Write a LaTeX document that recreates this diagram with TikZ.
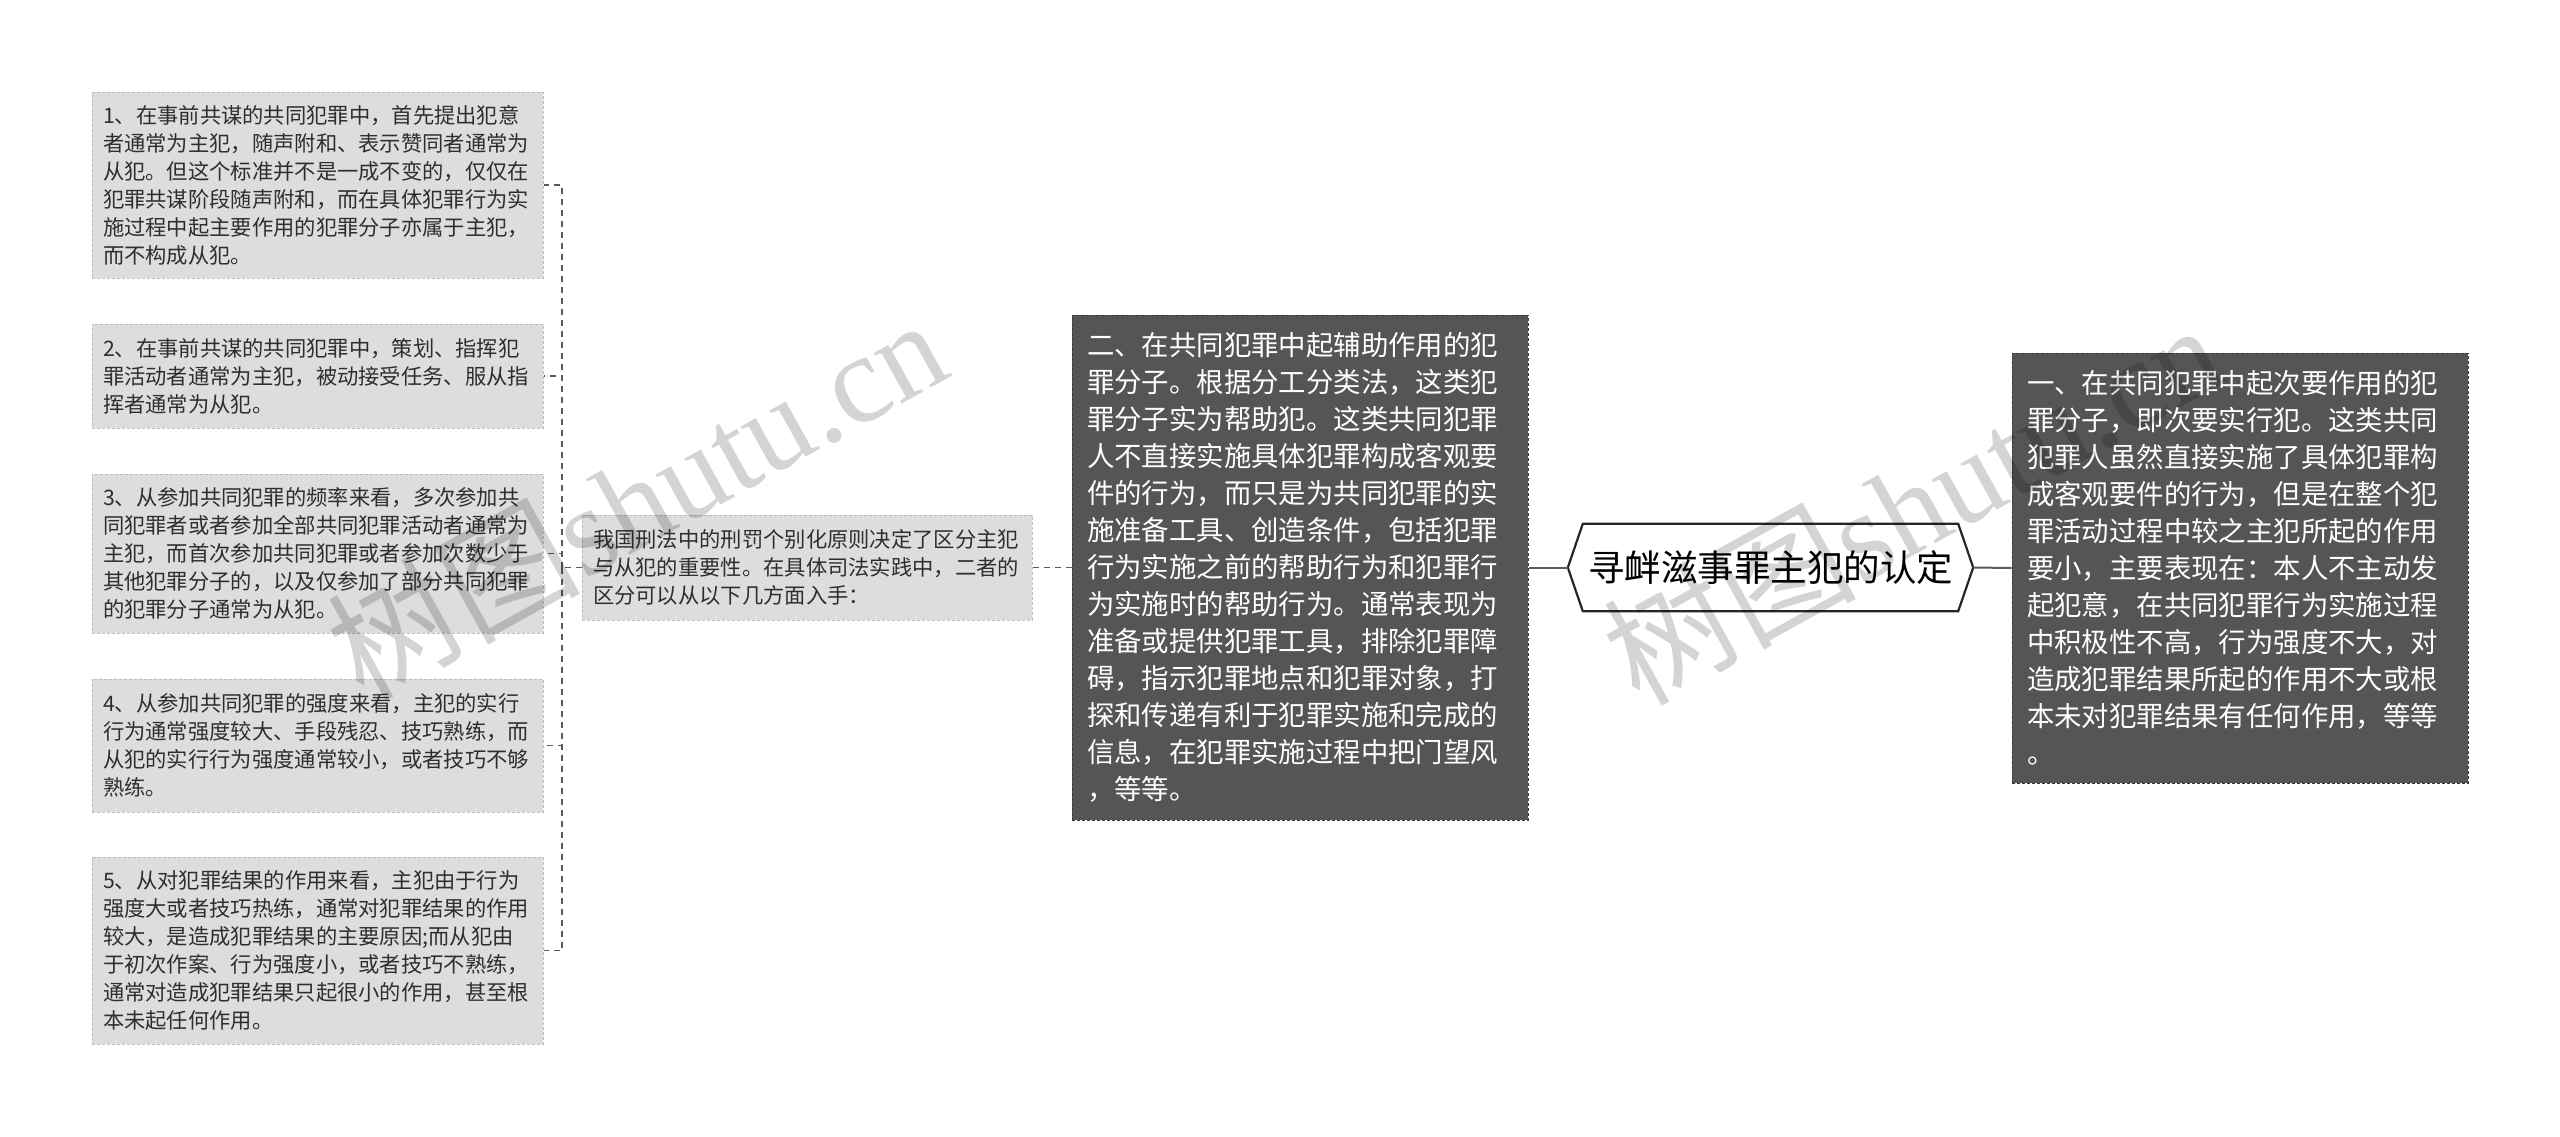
\documentclass[tikz,border=0pt]{standalone}
\usepackage{fontspec}
\setmainfont{Noto Sans CJK SC}
\newfontfamily\wmserif{Liberation Serif}
\usetikzlibrary{calc}
\definecolor{lightfill}{HTML}{DDDDDD}
\definecolor{lightborder}{HTML}{BDBDBD}
\definecolor{darkfill}{HTML}{555555}
\definecolor{darkborder}{HTML}{3A3A3A}
\definecolor{linegray}{HTML}{5A5A5A}
\definecolor{txt}{HTML}{2E2E2E}
\begin{document}
\begin{tikzpicture}[x=1pt,y=-1pt,
  smallbox/.style={fill=lightfill, draw=lightborder, dash pattern=on 3pt off 2pt, line width=1pt,
    text=txt, align=left, inner xsep=11pt, inner ysep=0pt, text width=429pt,
    font=\fontsize{21.3pt}{28pt}\selectfont},
  bigbox/.style={fill=darkfill, draw=darkborder, dash pattern=on 3pt off 2pt, line width=1pt,
    text=white, align=left, inner xsep=15pt, inner ysep=0pt, text width=426pt,
    font=\fontsize{27.4pt}{37pt}\selectfont},
  rootbox/.style={inner sep=0pt, minimum width=405pt, minimum height=87pt,
    font=\fontsize{36.5pt}{44pt}\selectfont, text=black},
  dashlink/.style={draw=linegray, line width=1.4pt, dash pattern=on 6pt off 5pt},
  solidlink/.style={draw=linegray, line width=2pt},
  watermark/.style={text=black, opacity=0.17, rotate=29, inner sep=0pt,
    font=\fontsize{126pt}{126pt}\selectfont}
]
\useasboundingbox (0,0) rectangle (2560,1136);
\fill[white] (0,0) rectangle (2560,1136);

% left leaves
\node[smallbox, minimum height=186pt] (b1) at (317.5,185) {1、在事前共谋的共同犯罪中，首先提出犯意\\者通常为主犯，随声附和、表示赞同者通常为\\从犯。但这个标准并不是一成不变的，仅仅在\\犯罪共谋阶段随声附和，而在具体犯罪行为实\\施过程中起主要作用的犯罪分子亦属于主犯，\\而不构成从犯。};
\node[smallbox, minimum height=104pt] (b2) at (317.5,376) {2、在事前共谋的共同犯罪中，策划、指挥犯\\罪活动者通常为主犯，被动接受任务、服从指\\挥者通常为从犯。};
\node[smallbox, minimum height=159pt] (b3) at (317.5,553.5) {3、从参加共同犯罪的频率来看，多次参加共\\同犯罪者或者参加全部共同犯罪活动者通常为\\主犯，而首次参加共同犯罪或者参加次数少于\\其他犯罪分子的，以及仅参加了部分共同犯罪\\的犯罪分子通常为从犯。};
\node[smallbox, minimum height=133pt] (b4) at (317.5,745.5) {4、从参加共同犯罪的强度来看，主犯的实行\\行为通常强度较大、手段残忍、技巧熟练，而\\从犯的实行行为强度通常较小，或者技巧不够\\熟练。};
\node[smallbox, minimum height=187pt] (b5) at (317.5,950.5) {5、从对犯罪结果的作用来看，主犯由于行为\\强度大或者技巧热练，通常对犯罪结果的作用\\较大，是造成犯罪结果的主要原因;而从犯由\\于初次作案、行为强度小，或者技巧不熟练，\\通常对造成犯罪结果只起很小的作用，甚至根\\本未起任何作用。};

% middle
\node[smallbox, text width=428pt, minimum height=105pt] (mid) at (807,567.5) {我国刑法中的刑罚个别化原则决定了区分主犯\\与从犯的重要性。在具体司法实践中，二者的\\区分可以从以下几方面入手：};

\node[bigbox, minimum height=505pt] (two) at (1300,567.5) {二、在共同犯罪中起辅助作用的犯\\罪分子。根据分工分类法，这类犯\\罪分子实为帮助犯。这类共同犯罪\\人不直接实施具体犯罪构成客观要\\件的行为，而只是为共同犯罪的实\\施准备工具、创造条件，包括犯罪\\行为实施之前的帮助行为和犯罪行\\为实施时的帮助行为。通常表现为\\准备或提供犯罪工具，排除犯罪障\\碍，指示犯罪地点和犯罪对象，打\\探和传递有利于犯罪实施和完成的\\信息，在犯罪实施过程中把门望风\\，等等。};

\node[rootbox] (root) at (1770.5,567.5) {寻衅滋事罪主犯的认定};

\node[bigbox, minimum height=430pt] (one) at (2240,568) {一、在共同犯罪中起次要作用的犯\\罪分子，即次要实行犯。这类共同\\犯罪人虽然直接实施了具体犯罪构\\成客观要件的行为，但是在整个犯\\罪活动过程中较之主犯所起的作用\\要小，主要表现在：本人不主动发\\起犯意，在共同犯罪行为实施过程\\中积极性不高，行为强度不大，对\\造成犯罪结果所起的作用不大或根\\本未对犯罪结果有任何作用，等等\\。};

% hexagon outline of the root
\draw[fill=white, draw=black!85, line width=2.2pt, line join=miter]
  (root.west) -- ([xshift=15pt]root.north west) -- ([xshift=-15pt]root.north east)
  -- (root.east) -- ([xshift=-15pt]root.south east) -- ([xshift=15pt]root.south west) -- cycle;
\node[rootbox] at (root.center) {寻衅滋事罪主犯的认定};

% connectors
\coordinate (j) at (562,567.5);
\draw[solidlink] (root.west) -- (two.east);
\draw[solidlink] (root.east) -- (one.west);
\draw[dashlink] (two.west) -- (mid.east);
\draw[dashlink] (mid.west) -- (j);
\draw[dashlink] (j) |- (b1.east);
\draw[dashlink] (j) |- (b2.east);
\draw[dashlink] (j) |- (b3.east);
\draw[dashlink] (j) |- (b4.east);
\draw[dashlink] (j) |- (b5.east);

% watermarks
\node[watermark] (wm1) at (636,497) {树图{\wmserif shutu.cn}};
\node[watermark] (wm2) at (1912,502) {树图{\wmserif shutu.cn}};
\end{tikzpicture}
\end{document}
